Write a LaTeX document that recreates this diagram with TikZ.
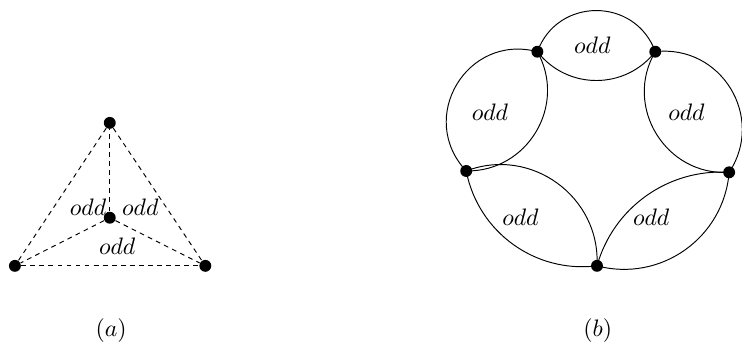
\documentclass[tikz,border=0pt]{standalone}
\begin{document}
\begin{tikzpicture}[
    vtx/.style={circle, fill, inner sep=0pt, minimum size=5pt},
    lbl/.style={inner sep=1pt}]
  \useasboundingbox (0,0) rectangle (10.95,5.063);
  % (a)
  \node[vtx] (t)  at (1.62,3.25) {};
  \node[vtx] (c)  at (1.62,1.85) {};
  \node[vtx] (bl) at (0.22,1.14) {};
  \node[vtx] (br) at (3.03,1.14) {};
  \foreach \u/\v in {t/bl, t/br, bl/br, c/t, c/bl, c/br}
    \draw[dash pattern=on 2pt off 1.8pt] (\u) -- (\v);
  \node[lbl] (la1) at (1.30,2.01) {$odd$};
  \node[lbl] (la2) at (2.07,2.01) {$odd$};
  \node[lbl] (la3) at (1.73,1.43) {$odd$};
  \node (capa) at (1.64,0.19) {$(a)$};
  % (b)
  \node[vtx] (v1) at (7.93,4.30) {};
  \node[vtx] (v2) at (9.67,4.30) {};
  \node[vtx] (v3) at (10.76,2.52) {};
  \node[vtx] (v4) at (8.81,1.14) {};
  \node[vtx] (v5) at (6.88,2.54) {};
  % outer and inner side of each lens
  \foreach \u/\v/\b/\l in {v1/v2/70/1.27,  v1/v2/-52/1.06,
                           v2/v3/65/1.2,   v2/v3/-62/1.15,
                           v3/v4/50/1.04,  v3/v4/-39/0.96,
                           v4/v5/43/0.99,  v4/v5/-57/1.1,
                           v5/v1/74/1.34,  v5/v1/-60/1.13}
    \draw (\u.center) to[bend left=\b, looseness=\l] (\v.center);
  \node[lbl] (lb1) at (8.74,4.40) {$odd$};
  \node[lbl] (lb2) at (10.13,3.41) {$odd$};
  \node[lbl] (lb3) at (9.61,1.85) {$odd$};
  \node[lbl] (lb4) at (7.68,1.85) {$odd$};
  \node[lbl] (lb5) at (7.23,3.41) {$odd$};
  \node (capb) at (8.82,0.19) {$(b)$};
\end{tikzpicture}
\end{document}
